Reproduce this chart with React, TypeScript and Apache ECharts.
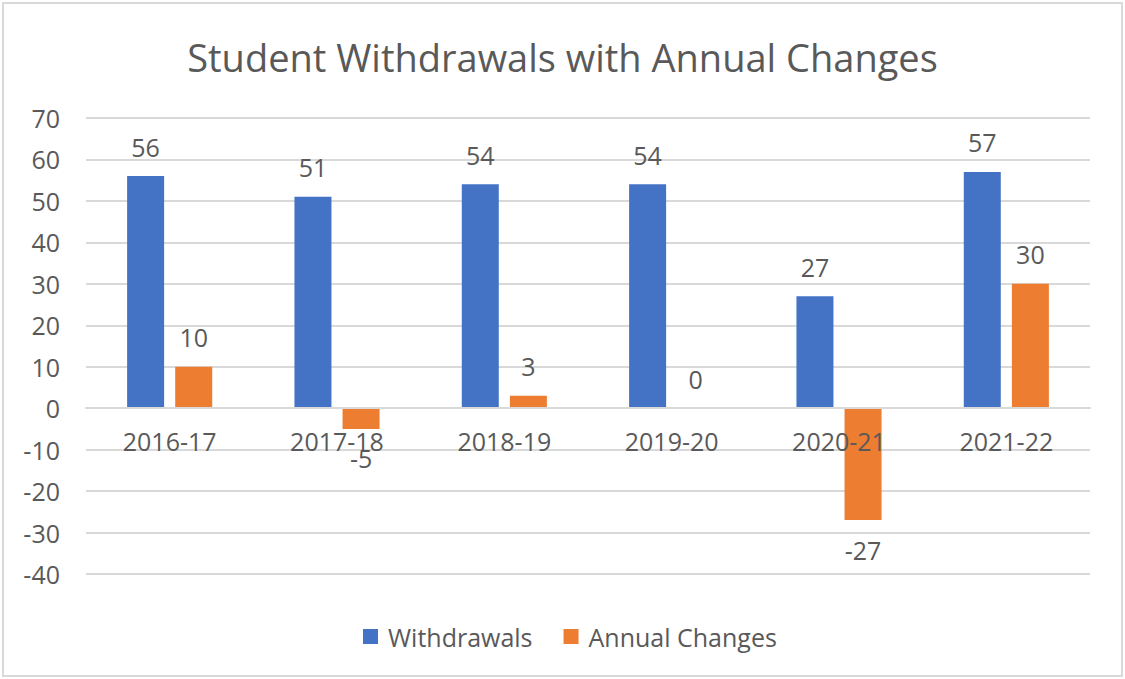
import React, { useEffect, useRef } from "react";
import * as echarts from "echarts";

const categories = ["2016-17", "2017-18", "2018-19", "2019-20", "2020-21", "2021-22"];
const withdrawals = [56, 51, 54, 54, 27, 57];
const annualChanges = [10, -5, 3, 0, -27, 30];
const yMin = -40;
const yMax = 70;
const yInterval = 10;

const FONT = "'Open Sans', 'Noto Sans', sans-serif";
const TEXT = "#595959";
const GRID = "#d9d9d9";

const W = 1125;
const H = 679;
const GRID_TOP = 118;
const GRID_BOTTOM = 105;

function toData(values: number[]) {
  return values.map((v) => ({
    value: v,
    label: { position: v < 0 ? "bottom" : "top" },
  }));
}

export default function App() {
  const ref = useRef<HTMLDivElement>(null);
  useEffect(() => {
    document.body.style.margin = "0";
    const chart = echarts.init(ref.current!, null, { renderer: "svg" });
    const plotH = H - GRID_TOP - GRID_BOTTOM;
    const zeroOffset = -((0 - yMin) / (yMax - yMin)) * plotH;
    const labelCommon = {
      show: true,
      distance: 17,
      fontFamily: FONT,
      fontSize: 25,
      color: TEXT,
    };
    chart.setOption({
      animation: false,
      backgroundColor: "#ffffff",
      title: {
        text: "Student Withdrawals with Annual Changes",
        left: "center",
        top: 33,
        textStyle: { fontFamily: FONT, fontSize: 38, fontWeight: "normal", color: TEXT },
      },
      graphic: [
        {
          type: "rect",
          shape: { x: 3, y: 3, width: 1119, height: 673 },
          style: { fill: "none", stroke: GRID, lineWidth: 2 },
          silent: true,
        },
      ],
      legend: {
        data: ["Withdrawals", "Annual Changes"],
        left: 358,
        top: 619,
        itemWidth: 15,
        itemHeight: 15,
        itemGap: 31,
        icon: "rect",
        textStyle: { fontFamily: FONT, fontSize: 25, color: TEXT, padding: [0, 0, 0, 5] },
      },
      grid: { left: 86, right: 35, top: GRID_TOP, bottom: GRID_BOTTOM, containLabel: false },
      xAxis: {
        type: "category",
        data: categories,
        position: "bottom",
        offset: zeroOffset,
        z: 5,
        axisLine: { onZero: false, lineStyle: { color: GRID, width: 2 } },
        axisTick: { show: false },
        axisLabel: { fontFamily: FONT, fontSize: 25, color: TEXT, margin: 20 },
      },
      yAxis: {
        type: "value",
        min: yMin,
        max: yMax,
        interval: yInterval,
        axisLine: { show: false },
        axisTick: { show: false },
        splitLine: { lineStyle: { color: GRID, width: 2 } },
        axisLabel: { fontFamily: FONT, fontSize: 25, color: TEXT, margin: 26 },
      },
      series: [
        {
          name: "Withdrawals",
          type: "bar",
          data: toData(withdrawals),
          barWidth: 37,
          barGap: "30%",
          itemStyle: { color: "#4472C4" },
          label: labelCommon,
        },
        {
          name: "Annual Changes",
          type: "bar",
          data: toData(annualChanges),
          barWidth: 37,
          barGap: "30%",
          itemStyle: { color: "#ED7D31" },
          label: labelCommon,
        },
      ],
    });
    return () => chart.dispose();
  }, []);
  return <div ref={ref} style={{ width: W, height: H }} />;
}
